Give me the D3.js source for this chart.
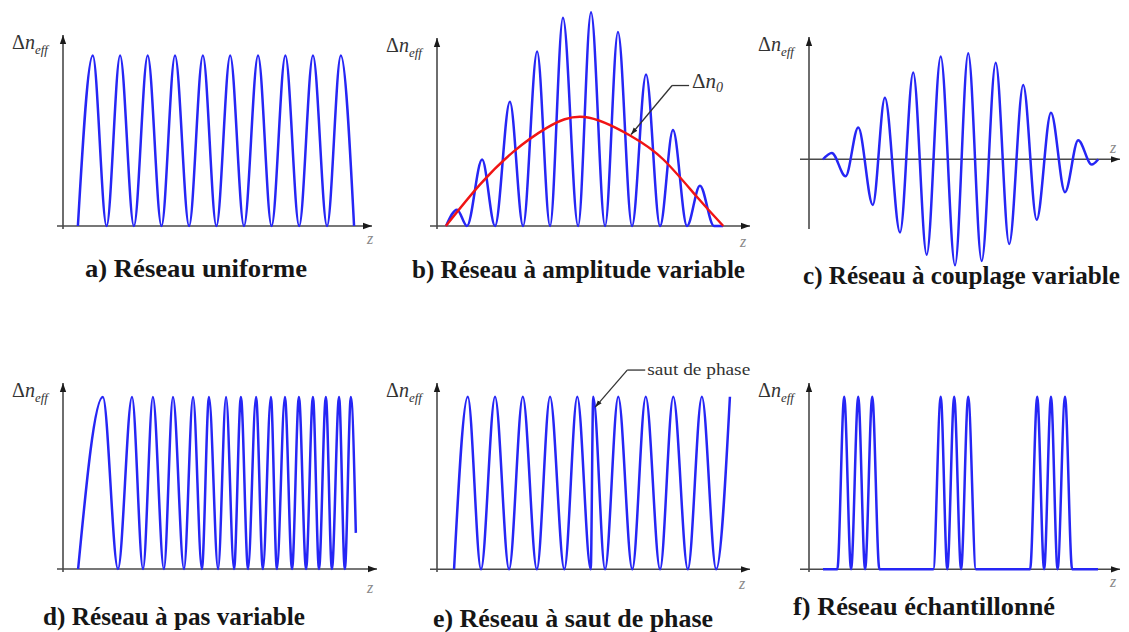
<!DOCTYPE html>
<html><head><meta charset="utf-8">
<script src="https://cdn.jsdelivr.net/npm/d3@7"></script>
<style>
body{margin:0;background:#fff;} svg{display:block;}
text{font-family:"Liberation Serif","Tinos","Times New Roman","DejaVu Serif","Noto Serif",serif;}
</style>
</head><body>
<svg id="c" width="1129" height="632"></svg>
<script>
// ---- data (z in grating periods, n = normalised index modulation) ----
const aZ = [0.54,1.08,1.58,2.07,2.57,3.07,3.57,4.06,4.57,5.07,5.56,6.06,6.56,7.07,7.56,8.06,8.56,9.06,9.57,10.07,10.55];
const aN = [0,1,0,1,0,1,0,1,0,1,0,1,0,1,0,1,0,1,0,1,0];

const bZ = [0.33,0.73,1.09,1.64,2.11,2.65,3.13,3.64,4.11,4.58,5.13,5.6,6.11,6.58,7.09,7.6,8.11,8.58,9.09,9.56,10.07,10.4];
const bN = [0,0.15,0,0.61,0,1.14,0,1.6,0,1.91,0,1.96,0,1.78,0,1.39,0,0.88,0,0.37,0,0];
const bEnvZ = [0.32,1.56,2.77,3.99,5.38,7.02,8.23,9.44,10.41];
const bEnvN = [0,0.38,0.68,0.90,1.0,0.83,0.61,0.27,0];

const cZ = [0.51,0.83,1.33,1.79,2.32,2.76,3.31,3.79,4.28,4.79,5.31,5.79,6.28,6.79,7.28,7.79,8.28,8.8,9.31,9.79,10.28,10.52];
const cN = [0,0.06,-0.16,0.30,-0.43,0.58,-0.69,0.82,-0.90,0.97,-1.0,1.0,-0.96,0.91,-0.80,0.70,-0.57,0.44,-0.31,0.18,-0.05,0];

const dZ = [0.55,1.45,2.0,2.51,2.91,3.27,3.67,4.0,4.4,4.73,5.05,5.31,5.64,5.93,6.22,6.47,6.73,7.02,7.27,7.56,7.78,8.07,8.33,8.58,8.84,9.09,9.31,9.56,9.78,10.04,10.25,10.47,10.65];
const dN = [0,1,0,1,0,1,0,1,0,1,0,1,0,1,0,1,0,1,0,1,0,1,0,1,0,1,0,1,0,1,0,1,0.21];

const eZ = [0.62,1.12,1.6,2.11,2.62,3.12,3.63,4.11,4.63,5.1,5.59,5.68,6.11,6.59,7.1,7.59,8.11,8.59,9.12,9.63,10.15,10.65];
const eN = [0,1,0,1,0,1,0,1,0,1,0,1,0,1,0,1,0,1,0,1,0,1];

const fZ = [0.51,1.03,1.28,1.53,1.79,2.04,2.3,2.56,4.52,4.79,5.03,5.28,5.53,5.79,6.07,8.04,8.3,8.55,8.8,9.04,9.31,9.57,10.51];
const fN = [0,0,1,0,1,0,1,0,0,1,0,1,0,1,0,0,1,0,1,0,1,0,0];

const titles = ["a) Réseau uniforme","b) Réseau à amplitude variable","c) Réseau à couplage variable",
                "d) Réseau à pas variable","e) Réseau à saut de phase","f) Réseau échantillonné"];
const annE = "saut de phase";

// ---- layout ----
const BLUE = "#2626f5", RED = "#f01414", AXIS = "#4a4a4a";
const panels = [
  {ox:63,  base:226,   xs:57,  xe:372,  yt:35,  yb:229, zMax:11.2,  top:55.5,  zl:[370,244], tx:85,  ty:277, tw:222, z:aZ, n:aN},
  {ox:437, base:226,   xs:430, xe:750,  yt:38,  yb:229, zMax:11.38, top:117,   zl:[743,247], tx:412, ty:278, tw:333, z:bZ, n:bN},
  {ox:809, base:159.3, xs:800, xe:1120, yt:37,  yb:229, zMax:11.31, top:53.3,  zl:[1113,153],tx:803, ty:284, tw:317, z:cZ, n:cN},
  {ox:63,  base:569,   xs:57,  xe:377,  yt:383, yb:572, zMax:11.42, top:397,   zl:[370,593], tx:43,  ty:625, tw:262, z:dZ, n:dN},
  {ox:437, base:569.3, xs:430, xe:750,  yt:383, yb:572, zMax:11.38, top:396.7, zl:[742,589], tx:433, ty:627, tw:280, z:eZ, n:eN},
  {ox:809, base:569.3, xs:800, xe:1120, yt:383, yb:572, zMax:11.31, top:396.7, zl:[1113,587],tx:793, ty:615, tw:262, z:fZ, n:fN}
];

const svg = d3.select("#c");
const defs = svg.append("defs");
defs.append("marker").attr("id","arr").attr("viewBox","0 0 10 10")
  .attr("refX",10).attr("refY",5).attr("markerWidth",9).attr("markerHeight",9)
  .attr("markerUnits","userSpaceOnUse").attr("orient","auto")
  .append("path").attr("d","M0,1.5 L10,5 L0,8.5 Z").attr("fill","#1a1a1a");
defs.append("marker").attr("id","arrs").attr("viewBox","0 0 10 10")
  .attr("refX",10).attr("refY",5).attr("markerWidth",7).attr("markerHeight",7)
  .attr("markerUnits","userSpaceOnUse").attr("orient","auto")
  .append("path").attr("d","M0,1.5 L10,5 L0,8.5 Z").attr("fill","#222");

const scales = [];
panels.forEach((p,i)=>{
  const g = svg.append("g");
  const x = d3.scaleLinear().domain([0,p.zMax]).range([p.ox,p.xe]);
  const y = d3.scaleLinear().domain([0,1]).range([p.base,p.top]);
  scales.push({x,y});
  g.append("line").attr("x1",p.xs).attr("x2",p.xe).attr("y1",p.base).attr("y2",p.base)
    .attr("stroke",AXIS).attr("stroke-width",1.6).attr("marker-end","url(#arr)");
  g.append("line").attr("x1",p.ox).attr("x2",p.ox).attr("y1",p.yb).attr("y2",p.yt)
    .attr("stroke",AXIS).attr("stroke-width",1.6).attr("marker-end","url(#arr)");
  const t = g.append("text").attr("x",p.ox-51).attr("y",p.yt+14)
    .attr("font-size",20).attr("fill","#333");
  t.append("tspan").text("Δ");
  t.append("tspan").attr("font-style","italic").text("n");
  t.append("tspan").attr("font-style","italic").attr("font-size",13).attr("dy",5).text("eff");
  g.append("text").attr("x",p.zl[0]).attr("y",p.zl[1]).attr("text-anchor","middle")
    .attr("font-style","italic").attr("font-size",16).attr("fill","#8a8a8a").text("z");
  const line = d3.line().x((d,k)=>x(p.z[k])).y((d,k)=>y(p.n[k])).curve(d3.curveMonotoneX);
  g.append("path").attr("d",line(p.z)).attr("fill","none").attr("stroke",BLUE)
    .attr("stroke-width",2.5).attr("stroke-linejoin","round");
  g.append("text").attr("x",p.tx).attr("y",p.ty).attr("font-weight","bold")
    .attr("font-size",24.5).attr("fill","#161616")
    .attr("textLength",p.tw).attr("lengthAdjust","spacingAndGlyphs").text(titles[i]);
});

{
  const {x,y} = scales[1];
  const env = d3.line().x((d,k)=>x(bEnvZ[k])).y((d,k)=>y(bEnvN[k])).curve(d3.curveNatural);
  svg.append("path").attr("d",env(bEnvZ)).attr("fill","none").attr("stroke",RED).attr("stroke-width",2.4);
  const tx = x(bEnvZ[5]), ty = y(bEnvN[5]);
  svg.append("line").attr("x1",tx+42).attr("y1",ty-50).attr("x2",tx+59).attr("y2",ty-50)
    .attr("stroke","#333").attr("stroke-width",1.3);
  svg.append("line").attr("x1",tx+42).attr("y1",ty-50).attr("x2",tx+1).attr("y2",ty-1)
    .attr("stroke","#333").attr("stroke-width",1.3).attr("marker-end","url(#arrs)");
  const lab = svg.append("text").attr("x",tx+62).attr("y",ty-48).attr("font-size",21).attr("fill","#333");
  lab.append("tspan").text("Δ");
  lab.append("tspan").attr("font-style","italic").text("n");
  lab.append("tspan").attr("font-style","italic").attr("font-size",14).attr("dy",4).text("0");
}
{
  const {x,y} = scales[4];
  const tx = x(eZ[11])+2, ty = y(0.94);
  svg.append("line").attr("x1",tx+32).attr("y1",ty-37).attr("x2",tx+50).attr("y2",ty-37)
    .attr("stroke","#333").attr("stroke-width",1.3);
  svg.append("line").attr("x1",tx+32).attr("y1",ty-37).attr("x2",tx).attr("y2",ty)
    .attr("stroke","#333").attr("stroke-width",1.3).attr("marker-end","url(#arrs)");
  svg.append("text").attr("x",tx+52).attr("y",ty-32).attr("font-size",17).attr("fill","#333")
    .attr("textLength",103).attr("lengthAdjust","spacingAndGlyphs").text(annE);
}
</script>
</body></html>
